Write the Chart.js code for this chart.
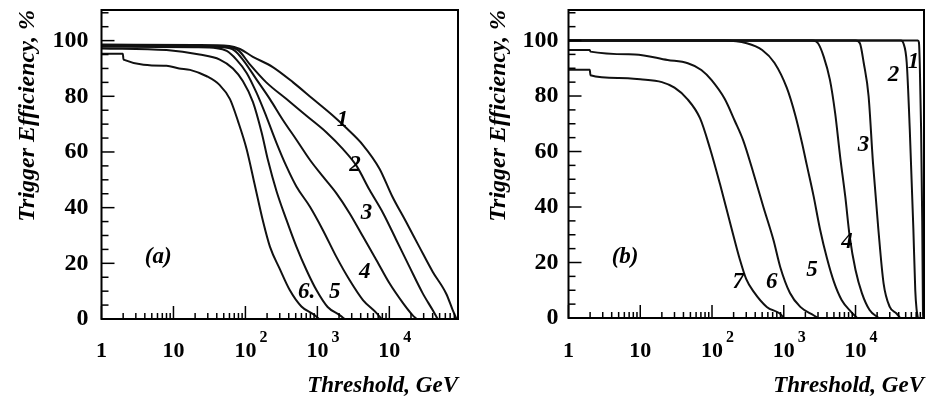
<!DOCTYPE html>
<html>
<head>
<meta charset="utf-8">
<script src="https://cdn.jsdelivr.net/npm/chart.js@4.4.1/dist/chart.umd.min.js"></script>
<style>
  html, body { margin: 0; padding: 0; background: #fff; }
  #wrap { position: relative; width: 930px; height: 400px; }
  .panel { position: absolute; top: 0; width: 465px; height: 400px; }
</style>
</head>
<body>
<div id="wrap">
  <div class="panel" style="left:0"><canvas id="chartA" width="465" height="400"></canvas></div>
  <div class="panel" style="left:465px"><canvas id="chartB" width="465" height="400"></canvas></div>
</div>
<script>
// Threshold (GeV) and trigger efficiency (%)

// panel (a)
const a1E   = [1, 20, 60, 84, 127, 240, 460, 870, 1650, 2550, 4300, 7300, 11000, 17000, 26000, 40000, 62000, 76000, 86000];
const a1Eff = [98.6, 98.4, 98.1, 97, 94.2, 90.5, 85, 79, 73, 68.5, 62.5, 54, 44, 35, 26, 17, 9, 3.2, 0];
const a2E   = [1, 20, 55, 80, 115, 195, 372, 705, 1340, 2270, 3500, 5300, 8200, 12500, 19000, 29000, 40000, 47000];
const a2Eff = [98.4, 98.1, 97.8, 96.5, 91.5, 85, 79, 73, 67, 61, 55, 46.4, 38, 28.4, 18.8, 9.3, 3.2, 0];
const a3E   = [1, 20, 50, 70, 92, 143, 219, 330, 511, 785, 1190, 1830, 2800, 4300, 6600, 10000, 15500, 21000, 24000];
const a3Eff = [98.1, 97.9, 97.6, 96.5, 93.2, 86, 79, 71.6, 64.4, 57.2, 51.2, 45.2, 38, 29.6, 21.2, 12.9, 5.7, 1.4, 0];
const a4E   = [1, 20, 40, 55, 75, 104, 143, 195, 270, 372, 511, 785, 1190, 1830, 2800, 4300, 6600, 7800];
const a4Eff = [97.8, 97.6, 97.3, 96.3, 93.2, 88.4, 81.2, 72.8, 63.3, 54.8, 47.6, 40.4, 32, 22.4, 14, 6.8, 2.2, 0];
const a5E   = [1, 8, 23, 44, 67, 92, 127, 168, 206, 270, 372, 511, 705, 970, 1390, 2040, 2400];
const a5Eff = [97.2, 96.6, 95, 93.2, 90, 85.5, 78, 67, 57, 46, 35.6, 26, 17.6, 10.4, 4.3, 1.4, 0];
const a6E   = [1, 1.98, 2.02, 8, 12, 17, 29, 44, 61, 79, 104, 134, 176, 219, 300, 413, 600, 900, 1050];
const a6Eff = [95.3, 95.3, 93.2, 91, 90, 89.5, 87.2, 84, 79, 71, 61, 48.5, 35, 26, 18, 10.4, 4.5, 1.5, 0];

// panel (b)
const b1E   = [1, 74000, 76500, 78500, 82000, 85000, 87000, 88000];
const b1Eff = [100, 100, 99.3, 92, 68, 35, 3, 0];
const b2E   = [1, 43000, 46500, 51700, 57000, 64000, 68000, 71000, 74000];
const b2Eff = [100, 100, 99, 92, 68, 32, 10, 3, 0];
const b3E   = [1, 10000, 11500, 13000, 15200, 17500, 20800, 24600, 30000, 37000, 42000];
const b3Eff = [100, 100, 99, 92, 80, 56, 32, 12.5, 4, 1.7, 0];
const b4E   = [1, 2500, 3000, 3600, 4400, 5200, 6100, 7200, 8300, 10000, 12300, 15700, 21000];
const b4Eff = [100, 100, 99, 94.2, 85.8, 73.8, 58.2, 43.7, 29.3, 17.3, 8.9, 2.9, 0];
const b5E   = [1, 150, 305, 500, 740, 1100, 1450, 1800, 2100, 2600, 3200, 4000, 5000, 6400, 8500, 10500];
const b5Eff = [100, 100, 99, 96.6, 92, 83, 73, 63, 55, 44, 32, 21.5, 13, 6.5, 2.5, 0];
const b6E   = [1, 1.98, 2.02, 8.4, 24, 46, 71, 98, 150, 208, 272, 380, 520, 720, 890, 1220, 1700, 2600, 3000];
const b6Eff = [96.6, 96.6, 96, 95, 93, 91.8, 89.4, 85.8, 79, 71, 64, 52, 40, 28, 18.5, 9, 4, 1, 0];
const b7E   = [1, 1.98, 2.02, 5, 10, 20, 30, 45, 68, 94, 130, 180, 245, 300, 380, 580, 890, 1000];
const b7Eff = [89.5, 89.5, 87.5, 86.5, 86, 85, 83, 79, 72, 61, 48, 34, 21, 14, 9.5, 4, 1.5, 0];

// axes
const xMin = 1, xMax = 90000;
const yMin = 0, yMax = 111;
const yTickVals = [0, 20, 40, 60, 80, 100];
const xTickVals = [1, 10, 100, 1000, 10000];
const xTickBase = ['1', '10', '10', '10', '10'];
const xTickExp  = ['', '', '2', '3', '4'];

// curve numbers, placed in data space [text, threshold, efficiency]
const aLabels = [['1', 2240, 71.6], ['2', 3320, 55.4], ['3', 4820, 38], ['4', 4570, 17],
                 ['5', 1750, 9.8], ['6.', 708, 9.5], ['(a)', 6.15, 22.4]];
const bLabels = [['1', 64400, 92.4], ['2', 33900, 87.6], ['3', 12900, 62.4], ['4', 7590, 27.5],
                 ['5', 2470, 17.3], ['6', 682, 13.1], ['7', 233, 13.1], ['(b)', 6.14, 22.1]];

const serif = "'Liberation Serif', 'Times New Roman', serif";

const toPoints = (xs, ys) => xs.map((v, i) => ({ x: v, y: ys[i] }));

// frame, inward ticks, x tick labels with exponents, curve numbers
const decorations = {
  id: 'decorations',
  afterDatasetsDraw(chart, args, opts) {
    const { ctx, chartArea: a, scales: { x, y } } = chart;
    ctx.save();
    ctx.strokeStyle = '#000';
    ctx.lineWidth = 1.5;
    for (let v = yMin; v < yMax; v += 5) {
      const py = y.getPixelForValue(v);
      const len = yTickVals.includes(v) ? 13 : 7;
      ctx.beginPath(); ctx.moveTo(a.left, py); ctx.lineTo(a.left + len, py); ctx.stroke();
    }
    for (let d = 1; d < xMax; d *= 10) {
      for (let m = 1; m <= 9; m++) {
        const v = m * d;
        if (v >= xMax) continue;
        const px = x.getPixelForValue(v);
        const len = m === 1 ? 13 : 6;
        ctx.beginPath(); ctx.moveTo(px, a.bottom); ctx.lineTo(px, a.bottom - len); ctx.stroke();
      }
    }
    ctx.lineWidth = 2;
    ctx.strokeRect(a.left, a.top, a.right - a.left, a.bottom - a.top);

    ctx.fillStyle = '#000';
    ctx.textBaseline = 'middle';
    xTickVals.forEach((v, i) => {
      const px = x.getPixelForValue(v);
      ctx.font = 'bold 22px ' + serif;
      ctx.textAlign = 'center';
      ctx.fillText(xTickBase[i], px, 351);
      if (xTickExp[i]) {
        const w = ctx.measureText(xTickBase[i]).width;
        ctx.font = 'bold 16px ' + serif;
        ctx.textAlign = 'left';
        ctx.fillText(xTickExp[i], px + w / 2 + 3, 338);
      }
    });

    ctx.font = 'italic bold 23px ' + serif;
    ctx.textAlign = 'center';
    opts.labels.forEach(([t, e, v]) => {
      ctx.fillText(t, x.getPixelForValue(e), y.getPixelForValue(v));
    });
    ctx.restore();
  }
};

function makeChart(id, curves, labels, g) {
  return new Chart(document.getElementById(id), {
    type: 'line',
    data: {
      datasets: curves.map(([xs, ys]) => ({
        data: toPoints(xs, ys),
        borderColor: '#111',
        borderWidth: 2,
        pointRadius: 0,
        cubicInterpolationMode: 'monotone',
        fill: false
      }))
    },
    options: {
      responsive: false,
      animation: false,
      devicePixelRatio: 1,
      layout: { padding: { left: 0, right: g.padRight, top: 10, bottom: 0 } },
      plugins: {
        legend: { display: false },
        tooltip: { enabled: false },
        decorations: { labels }
      },
      scales: {
        x: {
          type: 'logarithmic',
          min: xMin,
          max: xMax,
          grid: { display: false, drawTicks: false },
          border: { display: false },
          ticks: { display: false },
          title: {
            display: true,
            text: 'Threshold, GeV',
            align: 'end',
            color: '#000',
            font: { family: serif, size: 23, weight: 'bold', style: 'italic' },
            padding: { top: 0, bottom: 0 }
          },
          afterFit: s => { s.height = g.xHeight; }
        },
        y: {
          min: yMin,
          max: yMax,
          grid: { display: false, drawTicks: false },
          border: { display: false },
          afterBuildTicks: s => { s.ticks = yTickVals.map(v => ({ value: v })); },
          ticks: {
            color: '#000',
            padding: g.tickPad,
            font: { family: serif, size: 24, weight: 'bold' }
          },
          title: {
            display: true,
            text: 'Trigger Efficiency, %',
            align: 'end',
            color: '#000',
            font: { family: serif, size: 24, weight: 'bold', style: 'italic' },
            padding: { top: g.titlePad, bottom: 0 }
          },
          afterFit: s => { s.width = g.yWidth; s.paddingTop = 0; s.paddingBottom = 0; }
        }
      }
    },
    plugins: [decorations]
  });
}

makeChart('chartA',
  [[a1E, a1Eff], [a2E, a2Eff], [a3E, a3Eff], [a4E, a4Eff], [a5E, a5Eff], [a6E, a6Eff]],
  aLabels,
  { padRight: 7, xHeight: 81, yWidth: 101.5, tickPad: 13, titlePad: 13.6 });

makeChart('chartB',
  [[b1E, b1Eff], [b2E, b2Eff], [b3E, b3Eff], [b4E, b4Eff], [b5E, b5Eff], [b6E, b6Eff], [b7E, b7Eff]],
  bLabels,
  { padRight: 6, xHeight: 82, yWidth: 103.5, tickPad: 10, titlePad: 18.9 });
</script>
</body>
</html>
